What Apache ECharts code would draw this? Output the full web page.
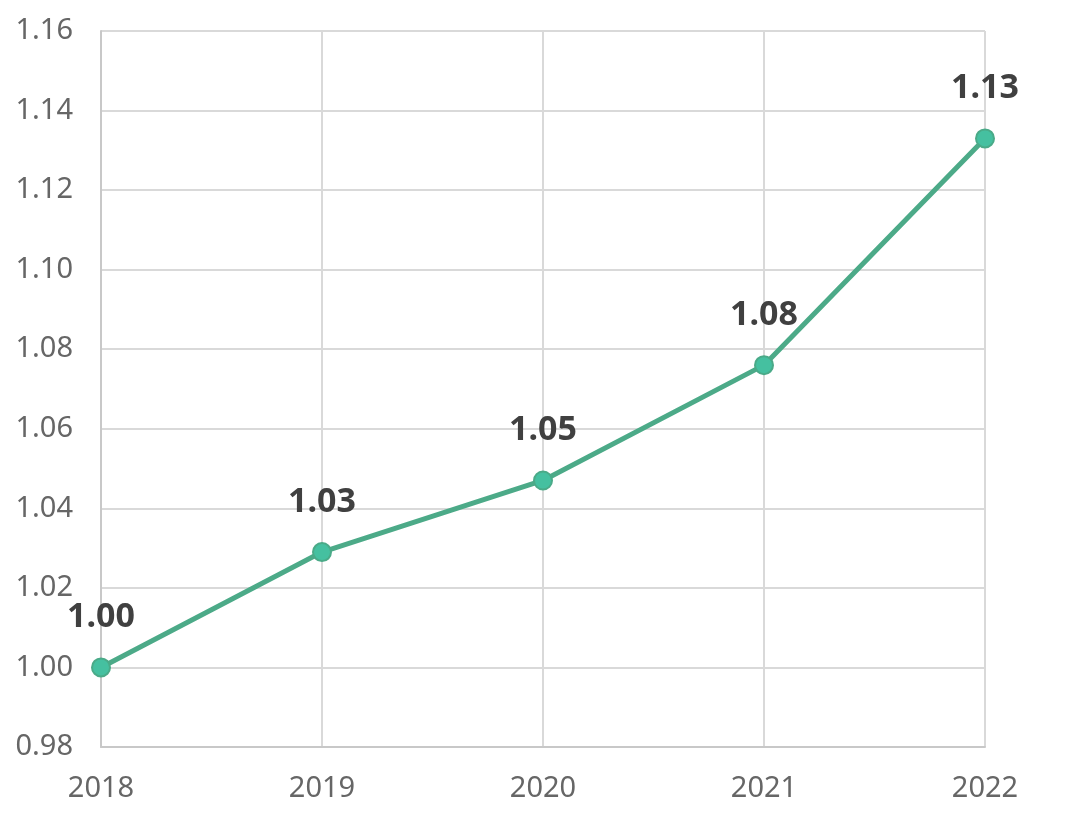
<!DOCTYPE html>
<html>
<head>
<meta charset="utf-8">
<script src="https://cdn.jsdelivr.net/npm/echarts@6/dist/echarts.min.js"></script>
<style>html,body{margin:0;padding:0;background:#fff;}#c{width:1080px;height:816px;}</style>
</head>
<body>
<div id="c"></div>
<script>
const categories = ['2018', '2019', '2020', '2021', '2022'];
const values = [1.000, 1.029, 1.047, 1.076, 1.133];
const yMin = 0.98, yMax = 1.16, yStep = 0.02;

const chart = echarts.init(document.getElementById('c'));
chart.setOption({
  animation: false,
  backgroundColor: '#ffffff',
  grid: { left: 101, right: 95, top: 31, bottom: 69 },
  xAxis: {
    type: 'category',
    data: categories,
    boundaryGap: false,
    axisLine: { lineStyle: { color: '#c8c8c8', width: 2 } },
    axisTick: { show: false },
    axisLabel: { color: '#666666', fontSize: 29, fontFamily: 'Noto Sans', margin: 27 },
    splitLine: { show: true, lineStyle: { color: '#d9d9d9', width: 2 } }
  },
  yAxis: {
    type: 'value',
    min: yMin, max: yMax, interval: yStep,
    axisLine: { show: true, lineStyle: { color: '#c8c8c8', width: 2 } },
    axisTick: { show: false },
    axisLabel: { color: '#666666', fontSize: 29, fontFamily: 'Noto Sans', margin: 28,
      formatter: v => v.toFixed(2) },
    splitLine: { lineStyle: { color: '#d9d9d9', width: 2 } }
  },
  series: [{
    type: 'line',
    data: values,
    symbol: 'circle',
    symbolSize: 18,
    lineStyle: { color: '#4caa88', width: 5 },
    itemStyle: { color: '#45c0a0', borderColor: '#4aaa88', borderWidth: 2 },
    label: {
      show: true, position: 'top', distance: 23,
      color: '#404040', fontSize: 34, fontWeight: 'bold', fontFamily: 'Noto Sans',
      formatter: p => p.value.toFixed(2)
    }
  }]
});
</script>
</body>
</html>
